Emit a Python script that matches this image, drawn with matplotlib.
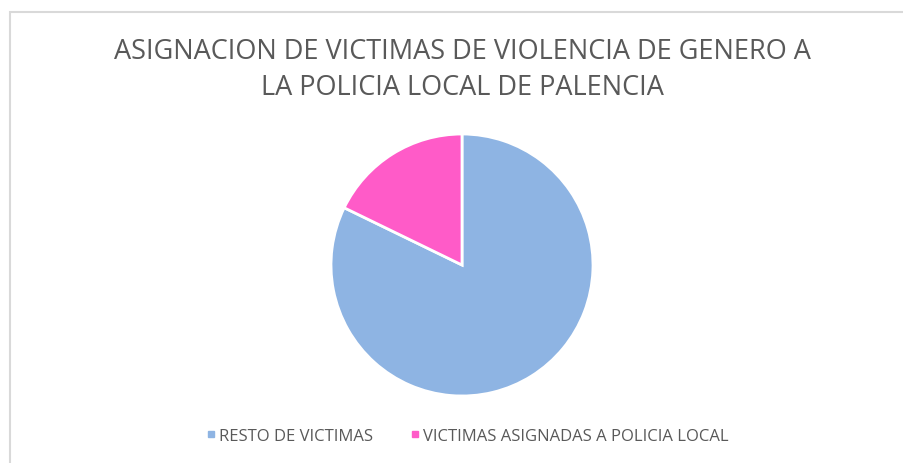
import matplotlib.pyplot as plt
from matplotlib.lines import Line2D
from matplotlib.patches import Rectangle

labels = ["RESTO DE VICTIMAS", "VICTIMAS ASIGNADAS A POLICIA LOCAL"]
values = [82.2, 17.8]
colors = ["#8eb4e3", "#ff5bc8"]

W, H = 904, 464
fig = plt.figure(figsize=(W / 100, H / 100), dpi=100)
fig.patch.set_facecolor("white")

# light frame around the chart area
fig.patches.append(Rectangle((10 / W, -0.01), 1.0, (H - 13) / H + 0.01,
                             transform=fig.transFigure, fill=False,
                             edgecolor="#d9d9d9", linewidth=1.5))

cx, cy, r = 462, 266, 131
ax = fig.add_axes([(cx - r) / W, (H - cy - r) / H, 2 * r / W, 2 * r / H])
ax.pie(values, colors=colors, startangle=90, counterclock=False,
       wedgeprops=dict(edgecolor="white", linewidth=2))
ax.set_xlim(-1, 1)
ax.set_ylim(-1, 1)
ax.set_aspect("equal")
ax.axis("off")

title_font = ["Open Sans", "DejaVu Sans"]
fig.text(cx / W, 1 - 52 / H, "ASIGNACION DE VICTIMAS DE VIOLENCIA DE GENERO A",
         ha="center", va="center", fontsize=19.5, color="#595959", family=title_font)
fig.text(cx / W, 1 - 88 / H, "LA POLICIA LOCAL DE PALENCIA",
         ha="center", va="center", fontsize=19.5, color="#595959", family=title_font)

handles = [Line2D([], [], marker="s", linestyle="", markersize=5,
                  markerfacecolor=c, markeredgecolor=c) for c in colors]
fig.legend(handles, labels, loc="center", bbox_to_anchor=(467 / W, 1 - 437 / H),
           ncol=2, frameon=False, handletextpad=0.1, columnspacing=2.2,
           handlelength=0.7, prop={"family": "Open Sans", "size": 12},
           labelcolor="#595959")

fig.savefig("out.png", dpi=100, facecolor="white")
